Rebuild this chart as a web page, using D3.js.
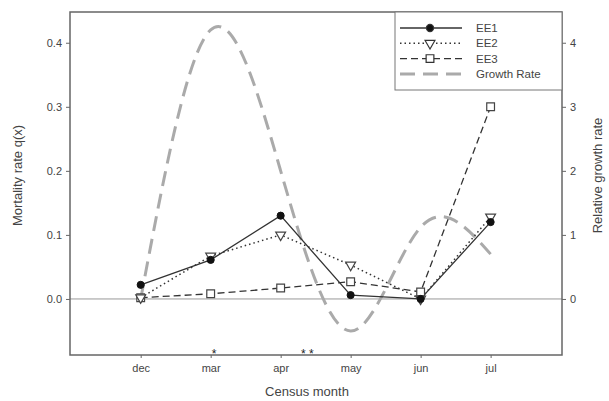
<!DOCTYPE html>
<html>
<head>
<meta charset="utf-8">
<script src="https://cdn.jsdelivr.net/npm/d3@7"></script>
<style>
  body { margin: 0; background: #fff; }
  text { font-family: "Liberation Sans", Arial, sans-serif; fill: #444; }
</style>
</head>
<body>
<div id="chart"></div>
<script>
// Data
const months = ['dec', 'mar', 'apr', 'may', 'jun', 'jul'];
const ee1 = [0.022, 0.061, 0.130, 0.006, 0.000, 0.120];
const ee2 = [0.002, 0.067, 0.100, 0.053, 0.000, 0.128];
const ee3 = [0.002, 0.008, 0.017, 0.027, 0.011, 0.300];
const growth = [0.0, 4.2, 2.0, -0.5, 1.12, 0.7];
const leftTicks = [0.0, 0.1, 0.2, 0.3, 0.4];
const rightTicks = [0, 1, 2, 3, 4];
const marks = [{ at: 1.05, label: '*' }, { at: 2.38, label: '* *' }];

const width = 609, height = 401;
const margin = { top: 12, right: 47, bottom: 46, left: 70 };

const svg = d3.select('#chart').append('svg')
    .attr('width', width)
    .attr('height', height);

const x = d3.scaleLinear()
    .domain([-1.01, 6.02])
    .range([margin.left, width - margin.right]);

const y = d3.scaleLinear()
    .domain([-0.0875, 0.448])
    .range([height - margin.bottom, margin.top]);

const y2 = d3.scaleLinear()
    .domain([-0.875, 4.48])
    .range([height - margin.bottom, margin.top]);

// zero reference line
svg.append('line')
    .attr('x1', margin.left).attr('x2', width - margin.right)
    .attr('y1', y(0)).attr('y2', y(0))
    .attr('stroke', '#999').attr('stroke-width', 1);

// Growth rate spline (drawn first, behind the series)
const growthLine = d3.line()
    .x((d, i) => x(i))
    .y(d => y2(d))
    .curve(d3.curveNatural);

svg.append('path')
    .datum(growth)
    .attr('d', growthLine)
    .attr('fill', 'none')
    .attr('stroke', '#aaa')
    .attr('stroke-width', 3)
    .attr('stroke-dasharray', '15,8');

const seriesLine = d3.line()
    .x((d, i) => x(i))
    .y(d => y(d));

// EE1 solid with filled circles
svg.append('path').datum(ee1).attr('d', seriesLine)
    .attr('fill', 'none').attr('stroke', '#333').attr('stroke-width', 1.3);

// EE2 dotted
svg.append('path').datum(ee2).attr('d', seriesLine)
    .attr('fill', 'none').attr('stroke', '#333').attr('stroke-width', 1.5)
    .attr('stroke-dasharray', '1.5,3');

// EE3 dashed
svg.append('path').datum(ee3).attr('d', seriesLine)
    .attr('fill', 'none').attr('stroke', '#333').attr('stroke-width', 1.3)
    .attr('stroke-dasharray', '7,4');

const sym = {
    circle: d3.symbol().type(d3.symbolCircle).size(40),
    square: d3.symbol().type(d3.symbolSquare).size(60),
    tri: d3.symbol().type(d3.symbolTriangle).size(42)
};

svg.selectAll('.m3').data(ee3).enter().append('path')
    .attr('transform', (d, i) => `translate(${x(i)},${y(d)})`)
    .attr('d', sym.square)
    .attr('fill', '#fff').attr('stroke', '#444').attr('stroke-width', 1.2);

svg.selectAll('.m2').data(ee2).enter().append('path')
    .attr('transform', (d, i) => `translate(${x(i)},${y(d)}) rotate(180)`)
    .attr('d', sym.tri)
    .attr('fill', '#fff').attr('stroke', '#444').attr('stroke-width', 1.2);

svg.selectAll('.m1').data(ee1).enter().append('path')
    .attr('transform', (d, i) => `translate(${x(i)},${y(d)})`)
    .attr('d', sym.circle)
    .attr('fill', '#111').attr('stroke', '#111');

// Frame
svg.append('rect')
    .attr('x', margin.left).attr('y', margin.top)
    .attr('width', width - margin.left - margin.right)
    .attr('height', height - margin.top - margin.bottom)
    .attr('fill', 'none').attr('stroke', '#666').attr('stroke-width', 1.5);

// Axes
const axisStyle = g => {
    g.select('.domain').remove();
    g.selectAll('line').attr('stroke', '#666');
    g.selectAll('text').attr('fill', '#444').style('font-size', '11px')
        .style('font-family', '"Liberation Sans", Arial, sans-serif');
};

svg.append('g')
    .attr('transform', `translate(${margin.left},0)`)
    .call(d3.axisLeft(y).tickValues(leftTicks).tickFormat(d3.format('.1f')).tickSize(4).tickPadding(4))
    .call(axisStyle);

svg.append('g')
    .attr('transform', `translate(${width - margin.right},0)`)
    .call(d3.axisRight(y2).tickValues(rightTicks).tickFormat(d3.format('d')).tickSize(4).tickPadding(4))
    .call(axisStyle);

svg.append('g')
    .attr('transform', `translate(0,${height - margin.bottom})`)
    .call(d3.axisBottom(x).tickValues(d3.range(months.length)).tickFormat(i => months[i]).tickSize(3).tickPadding(6))
    .call(axisStyle);

// significance marks, sitting on the x axis line
svg.selectAll('.sig').data(marks).enter().append('text')
    .attr('x', d => x(d.at))
    .attr('y', height - margin.bottom + 3)
    .attr('text-anchor', 'middle')
    .style('font-size', '12px')
    .attr('fill', '#222')
    .style('fill', '#222')
    .text(d => d.label);

// Axis titles
svg.append('text')
    .attr('transform', `translate(22,${(margin.top + height - margin.bottom) / 2 - 8}) rotate(-90)`)
    .attr('text-anchor', 'middle')
    .style('font-size', '13px')
    .text('Mortality rate q(x)');

svg.append('text')
    .attr('transform', `translate(${width - 7},${(margin.top + height - margin.bottom) / 2 - 8}) rotate(-90)`)
    .attr('text-anchor', 'middle')
    .style('font-size', '13px')
    .text('Relative growth rate');

svg.append('text')
    .attr('x', 307).attr('y', 396)
    .attr('text-anchor', 'middle')
    .style('font-size', '13px')
    .text('Census month');

// Legend
const legend = [
    { name: 'EE1', dash: null, w: 1.3, color: '#333', marker: 'circle' },
    { name: 'EE2', dash: '1.5,3', w: 1.5, color: '#333', marker: 'tri' },
    { name: 'EE3', dash: '7,4', w: 1.3, color: '#333', marker: 'square' },
    { name: 'Growth Rate', dash: '15,8', w: 3, color: '#aaa', marker: null }
];
const lgX = 395, lgY = margin.top;
svg.append('rect')
    .attr('x', lgX).attr('y', lgY)
    .attr('width', width - margin.right - lgX).attr('height', 78)
    .attr('fill', '#fff').attr('stroke', '#777').attr('stroke-width', 1);

legend.forEach((d, i) => {
    const ly = 28 + i * 15.3;
    svg.append('line')
        .attr('x1', 400).attr('x2', 462).attr('y1', ly).attr('y2', ly)
        .attr('stroke', d.color).attr('stroke-width', d.w)
        .attr('stroke-dasharray', d.dash);
    if (d.marker) {
        svg.append('path')
            .attr('transform', `translate(430,${ly})` + (d.marker === 'tri' ? ' rotate(180)' : ''))
            .attr('d', sym[d.marker])
            .attr('fill', d.marker === 'circle' ? '#111' : '#fff')
            .attr('stroke', '#333').attr('stroke-width', 1.2);
    }
    svg.append('text')
        .attr('x', 476).attr('y', ly + 4)
        .style('font-size', '11.5px')
        .text(d.name);
});
</script>
</body>
</html>
